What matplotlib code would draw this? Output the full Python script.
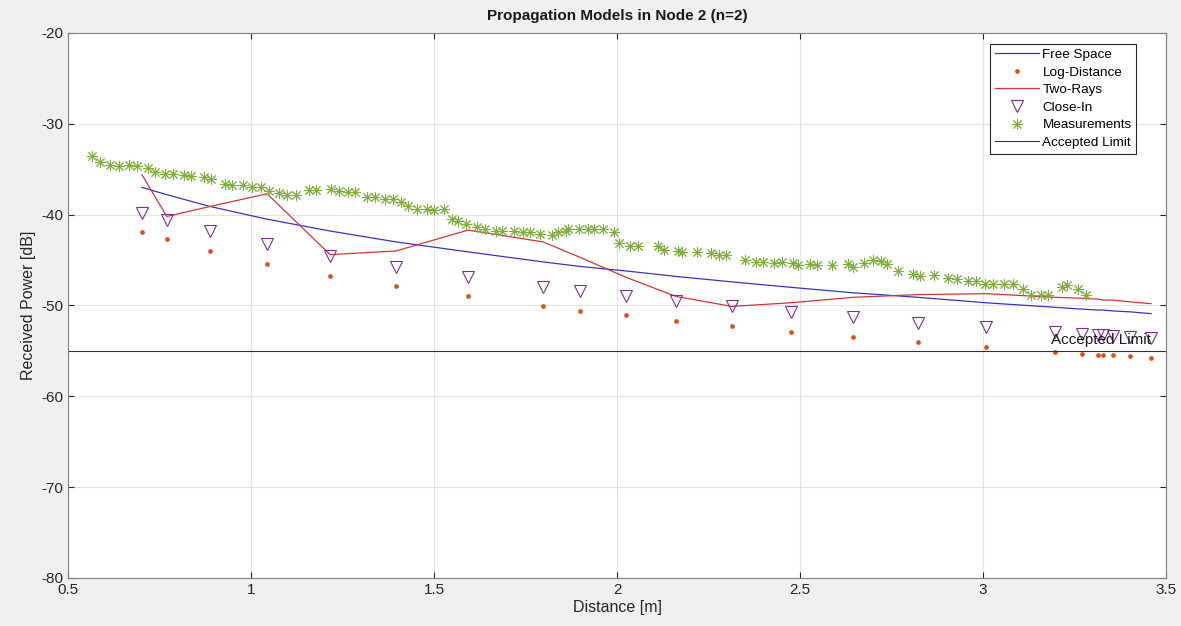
import matplotlib
matplotlib.use('Agg')
import matplotlib.pyplot as plt
from matplotlib.ticker import FuncFormatter

plt.rcParams['font.family'] = ['Liberation Sans', 'DejaVu Sans']
plt.rcParams['axes.unicode_minus'] = False

# Distancias donde se evaluan los modelos
dist = [0.702, 0.770, 0.888, 1.044, 1.216, 1.396, 1.593, 1.798, 1.899, 2.025,
        2.161, 2.314, 2.475, 2.645, 2.822, 3.008, 3.197, 3.270, 3.314, 3.328,
        3.355, 3.402, 3.459]

free_space = [-37.0, -37.8, -39.1, -40.5, -41.8, -43.0, -44.1, -45.2, -45.7, -46.2,
              -46.8, -47.4, -48.0, -48.6, -49.1, -49.7, -50.2, -50.4, -50.5, -50.5,
              -50.6, -50.7, -50.9]

log_distance = [-41.9, -42.7, -44.0, -45.4, -46.7, -47.9, -49.0, -50.1, -50.6, -51.1,
                -51.7, -52.3, -52.9, -53.5, -54.0, -54.6, -55.1, -55.3, -55.4, -55.4,
                -55.5, -55.6, -55.8]

two_rays = [-35.6, -40.2, -39.1, -37.7, -44.4, -44.0, -41.7, -43.0, -44.7, -46.9,
            -49.0, -50.1, -49.7, -49.1, -48.8, -48.7, -49.1, -49.2, -49.3, -49.4,
            -49.4, -49.6, -49.8]

close_in = [-39.8, -40.6, -41.8, -43.2, -44.6, -45.8, -46.9, -48.0, -48.4, -49.0,
            -49.5, -50.1, -50.7, -51.3, -51.9, -52.4, -52.9, -53.1, -53.3, -53.3,
            -53.4, -53.5, -53.6]

# Mediciones
meas_d = [0.565, 0.587, 0.616, 0.639, 0.667, 0.689, 0.719, 0.738, 0.765, 0.788,
          0.817, 0.836, 0.872, 0.891, 0.929, 0.947, 0.979, 1.002, 1.027, 1.050,
          1.077, 1.098, 1.122, 1.159, 1.178, 1.219, 1.241, 1.266, 1.285, 1.316,
          1.340, 1.366, 1.389, 1.410, 1.428, 1.453, 1.482, 1.499, 1.527, 1.549,
          1.566, 1.587, 1.617, 1.639, 1.668, 1.686, 1.719, 1.743, 1.762, 1.789,
          1.821, 1.839, 1.861, 1.867, 1.897, 1.920, 1.938, 1.961, 1.993, 2.006,
          2.036, 2.057, 2.111, 2.129, 2.166, 2.178, 2.218, 2.257, 2.280, 2.299,
          2.349, 2.381, 2.398, 2.430, 2.452, 2.481, 2.495, 2.527, 2.546, 2.587,
          2.630, 2.646, 2.676, 2.700, 2.720, 2.737, 2.767, 2.810, 2.827, 2.865,
          2.903, 2.928, 2.958, 2.980, 3.006, 3.028, 3.057, 3.083, 3.110, 3.132,
          3.159, 3.177, 3.215, 3.230, 3.259, 3.281]
meas_p = [-33.5, -34.2, -34.5, -34.6, -34.5, -34.6, -34.9, -35.3, -35.5, -35.5,
          -35.6, -35.7, -35.9, -36.1, -36.6, -36.7, -36.7, -37.0, -37.0, -37.4,
          -37.6, -37.8, -37.8, -37.3, -37.3, -37.2, -37.4, -37.5, -37.5, -38.1,
          -38.1, -38.3, -38.3, -38.6, -39.0, -39.4, -39.4, -39.5, -39.4, -40.5,
          -40.7, -41.0, -41.4, -41.6, -41.8, -41.75, -41.8, -41.9, -41.9, -42.1,
          -42.2, -41.9, -41.8, -41.55, -41.55, -41.6, -41.6, -41.6, -41.9, -43.1,
          -43.4, -43.4, -43.5, -43.9, -44.0, -44.15, -44.15, -44.2, -44.4, -44.4,
          -45.0, -45.2, -45.2, -45.3, -45.25, -45.3, -45.5, -45.4, -45.55, -45.55,
          -45.4, -45.8, -45.3, -45.0, -45.1, -45.4, -46.2, -46.5, -46.7, -46.65,
          -47.0, -47.05, -47.3, -47.3, -47.6, -47.6, -47.6, -47.6, -48.2, -48.9,
          -48.9, -48.8, -48.0, -47.7, -48.2, -48.9]

limit = -55
x_ticks = [0.5, 1, 1.5, 2, 2.5, 3, 3.5]
y_ticks = [-80, -70, -60, -50, -40, -30, -20]


def fmt(v, pos):
    return '%g' % v


def main():
    fig = plt.figure(figsize=(11.81, 6.26), dpi=100, facecolor='#f0f0f0')
    ax = fig.add_axes([0.0576, 0.0767, 0.9297, 0.8706])

    ax.plot(dist, free_space, color='#3535c4', lw=0.9, label='Free Space')
    ax.plot(dist, log_distance, ls='none', marker='o', ms=2.4, color='#d95319',
            label='Log-Distance')
    ax.plot(dist, two_rays, color='#d4333b', lw=0.9, label='Two-Rays')
    ax.plot(dist, close_in, ls='none', marker='v', ms=9, mfc='none', mec='#7e2f8e',
            mew=0.8, label='Close-In')
    ax.plot(meas_d, meas_p, ls='none', marker=(8, 2, 0), ms=8, color='#7db038',
            mew=0.7, label='Measurements')
    ax.axhline(limit, color='#333333', lw=0.8, label='Accepted Limit')
    ax.text(3.46, limit + 0.45, 'Accepted Limit', ha='right', va='bottom',
            fontsize=11, color='#1a1a1a')

    ax.set_xlim(0.5, 3.5)
    ax.set_ylim(-80, -20)
    ax.set_xticks(x_ticks)
    ax.set_yticks(y_ticks)
    ax.xaxis.set_major_formatter(FuncFormatter(fmt))
    ax.yaxis.set_major_formatter(FuncFormatter(fmt))
    ax.grid(True, color='#e3e3e3', lw=0.8)
    ax.set_axisbelow(True)
    ax.tick_params(direction='in', length=4, labelsize=11, colors='#262626',
                   top=True, right=True)
    for s in ax.spines.values():
        s.set_color('#808080')
        s.set_linewidth(0.8)

    ax.set_title('Propagation Models in Node 2 (n=2)', fontsize=11,
                 fontweight='bold', color='#1a1a1a', pad=9)
    ax.set_xlabel('Distance [m]', fontsize=11.5, color='#262626', labelpad=2)
    ax.set_ylabel('Received Power [dB]', fontsize=11.5, color='#262626', labelpad=4)

    leg = ax.legend(loc='upper right', bbox_to_anchor=(0.973, 0.98), fontsize=9.7,
                    fancybox=False, framealpha=1, edgecolor='#262626',
                    handlelength=3.3, labelspacing=0.38, borderpad=0.35,
                    handletextpad=0.25, borderaxespad=0)
    leg.get_frame().set_linewidth(0.8)

    fig.savefig('out.png', dpi=100, facecolor=fig.get_facecolor())


if __name__ == '__main__':
    main()
